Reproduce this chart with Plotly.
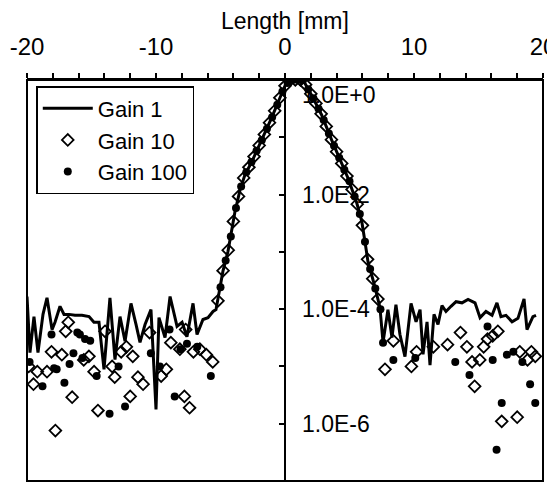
import plotly.graph_objects as go
import math

# ---------------- data ----------------
gain1_x = [-20.0, -19.77, -19.46, -19.15, -18.76, -18.45, -18.06, -17.83, -17.44, -17.13,
           -16.74, -16.28, -15.74, -15.19, -14.81, -14.42, -14.03, -13.57, -13.18, -12.79,
           -12.40, -11.94, -11.55, -11.24, -10.85, -10.39, -10.00, -9.77, -9.30, -8.91,
           -8.37, -7.98, -7.60, -7.13, -6.82, -6.36, -5.97, -5.58, -5.35, -5.04,
           -4.81, -4.42, -4.13, -3.88, -3.49, -3.10, -2.58, -1.81, -1.03, -0.39,
           0.0, 0.39, 1.40, 2.17, 2.84, 3.62, 4.26, 4.88, 5.56, 5.95,
           6.20, 6.43, 6.98, 7.36, 7.60, 7.98, 8.29, 8.60, 8.91, 9.30,
           9.77, 10.16, 10.47, 10.70, 11.01, 11.24, 11.55, 11.86, 12.17, 12.48,
           12.87, 13.26, 13.72, 14.19, 14.73, 15.12, 15.58, 16.05, 16.43, 16.74,
           17.13, 17.60, 18.06, 18.53, 18.76, 19.22, 19.46]
gain1_y = [1.66e-4, 1.74e-5, 7.4e-5, 1.74e-5, 8.1e-5, 1.58e-4, 4.4e-5, 5.9e-5, 1.12e-4, 8.1e-5,
           8.1e-5, 7.8e-5, 7.8e-5, 7.4e-5, 5.9e-5, 5.9e-5, 8.9e-6, 1.58e-4, 1.32e-5, 7.4e-5,
           2.75e-5, 1.26e-4, 5.4e-5, 2.63e-5, 5.4e-5, 9.8e-5, 1.78e-6, 7.1e-5, 3.2e-5, 1.66e-4,
           5.0e-5, 5.9e-5, 3.3e-5, 1.26e-4, 3.6e-5, 6.6e-5, 7.1e-5, 9.1e-5, 9.8e-5, 2.19e-4,
           4.6e-4, 1.02e-3, 2.24e-3, 5.0e-3, 1.2e-2, 2.24e-2, 3.7e-2, 8.9e-2, 0.22, 0.49,
           0.79, 1.0, 1.0, 0.49, 0.245, 8.9e-2, 4.1e-2, 1.95e-2, 7.2e-3, 3.4e-3,
           1.5e-3, 6.8e-4, 2.4e-4, 1.07e-4, 2.63e-5, 9.8e-5, 3.2e-5, 1.2e-4, 3.6e-5, 1.48e-5,
           1.26e-4, 6.0e-5, 9.8e-5, 1.62e-5, 6.0e-5, 1.05e-5, 8.1e-5, 5.4e-5, 1.15e-4, 9.1e-5,
           1.12e-4, 1.35e-4, 1.29e-4, 1.48e-4, 1.29e-4, 7.1e-5, 9.1e-5, 7.8e-5, 1.29e-4, 7.4e-5,
           7.8e-5, 6.0e-5, 6.9e-5, 1.51e-4, 4.4e-5, 7.4e-5, 7.8e-5]

gain10_x = [-19.87, -19.5, -19.2, -18.45, -18.1, -17.8, -17.3, -17.0, -16.8, -16.5,
            -15.6, -15.2, -14.8, -14.5, -13.95, -13.4, -13.2, -12.7, -12.3, -12.0,
            -11.8, -11.4, -11.0, -10.5, -9.6, -9.2, -8.85, -8.15, -7.8, -7.7,
            -7.4, -7.1, -6.6, -6.1, -5.6,
            -5.2, -4.8, -4.4, -4.0, -3.6, -3.2, -2.8, -2.4, -2.0, -1.6,
            -1.2, -0.8, -0.4, 0.0, 0.4, 0.8, 1.2, 1.6, 2.0, 2.4,
            2.8, 3.2, 3.6, 4.0, 4.4, 4.8, 5.2, 5.6, 6.0, 6.4,
            6.8, 7.2,
            7.75, 8.4, 9.8, 10.2, 11.5, 12.6, 13.6, 14.1, 14.5, 14.7,
            15.1, 15.4, 15.7, 16.1, 16.5, 16.8, 18.0, 18.2, 18.8, 19.1, 19.4]
gain10_y = [1.0e-5, 4.9e-6, 8.1e-6, 8.1e-6, 1.8e-5, 7.6e-7, 1.6e-5, 4.1e-5, 5.9e-5, 2.9e-6,
            1.3e-5, 1.5e-5, 8.1e-6, 1.7e-6, 4.1e-5, 1.0e-5, 6.5e-6, 1.8e-5, 2.2e-5, 3.0e-6,
            1.5e-5, 6.5e-6, 4.9e-6, 3.9e-5, 6.8e-6, 8.9e-6, 2.6e-5, 2.0e-5, 3.0e-6, 4.4e-5,
            1.9e-6, 1.8e-5, 2.0e-5, 1.6e-5, 1.2e-5,
            1.4e-4, 4.7e-4, 1.07e-3, 3.4e-3, 9.3e-3, 1.95e-2, 3.0e-2, 4.6e-2, 7.2e-2, 0.112,
            0.18, 0.29, 0.49, 0.79, 1.0, 1.0, 1.0, 0.83, 0.575, 0.39,
            0.257, 0.155, 0.091, 0.056, 0.035, 0.021, 0.0123, 6.8e-3, 2.9e-3, 7.4e-4,
            3.4e-4, 1.5e-4,
            8.9e-6, 2.8e-5, 1.0e-5, 1.8e-5, 2.2e-5, 2.4e-5, 3.9e-5, 2.2e-5, 1.2e-5, 4.5e-6,
            1.3e-5, 2.2e-5, 3.0e-5, 3.4e-5, 4.1e-5, 1.1e-6, 1.3e-6, 1.8e-5, 1.3e-5, 1.8e-5, 1.5e-5]

gain100_x = [-19.8, -18.8, -18.1, -17.9, -17.7, -17.1, -16.7, -16.4, -16.1, -15.9,
             -15.7, -15.5, -15.1, -14.6, -13.6, -12.9, -12.4, -10.4, -9.7, -8.95,
             -8.55, -8.1, -7.6, -6.8, -5.75,
             -5.0, -4.6, -4.2, -3.8, -3.4, -3.0, -2.6, -2.2, -1.8, -1.4,
             -1.0, -0.6, -0.2, 0.2, 0.6, 1.0, 1.4, 1.8, 2.2, 2.6,
             3.0, 3.4, 3.8, 4.2, 4.6, 5.0, 5.4, 5.8, 6.2, 6.6,
             7.0, 7.4,
             7.6, 8.4, 10.1, 13.2, 14.3, 15.7, 16.1, 16.4, 16.8, 17.2,
             17.7, 18.4, 19.0, 19.4]
gain100_y = [1.2e-5, 4.5e-6, 3.6e-5, 9.3e-6, 8.9e-6, 5.2e-6, 1.1e-5, 1.7e-5, 3.9e-5, 3.6e-5,
             1.4e-5, 3.0e-5, 2.8e-5, 6.8e-6, 1.5e-6, 1.0e-5, 2.0e-6, 1.7e-5, 1.0e-5, 4.4e-5,
             3.0e-6, 2.0e-5, 2.5e-5, 2.2e-5, 6.8e-6,
             2.4e-4, 7.1e-4, 1.86e-3, 5.8e-3, 1.38e-2, 2.45e-2, 3.7e-2, 5.8e-2, 8.9e-2, 0.141,
             0.224, 0.37, 0.63, 0.89, 1.0, 1.0, 1.0, 0.69, 0.48, 0.316,
             0.2, 0.117, 0.071, 0.044, 0.027, 0.017, 9.3e-3, 4.6e-3, 1.5e-3, 5.0e-4,
             2.3e-4, 1.0e-4,
             2.6e-5, 1.3e-5, 1.4e-5, 1.2e-5, 7.1e-6, 5.0e-5, 1.3e-5, 3.5e-7, 2.3e-6, 1.6e-5,
             1.8e-5, 1.2e-5, 4.9e-6, 2.3e-6]

x_tick_vals = [-20, -18, -16, -14, -12, -10, -8, -6, -4, -2, 0, 2, 4, 6, 8, 10, 12, 14, 16, 18, 20]
x_tick_text = ["-20", "", "", "", "", "-10", "", "", "", "", "0", "", "", "", "", "10", "", "", "", "", "20"]
y_tick_vals = [1, 1e-1, 1e-2, 1e-3, 1e-4, 1e-5, 1e-6, 1e-7]
y_label_vals = [1, 1e-2, 1e-4, 1e-6]
y_label_text = ["1.0E+0", "1.0E-2", "1.0E-4", "1.0E-6"]

FONT = "Liberation Sans, Arial, sans-serif"
FS = 23

fig = go.Figure()
fig.add_trace(go.Scatter(x=gain1_x, y=gain1_y, mode="lines", name="Gain 1",
                         line=dict(color="black", width=3)))
fig.add_trace(go.Scatter(x=gain10_x, y=gain10_y, mode="markers", name="Gain 10",
                         marker=dict(symbol="diamond-open", size=9, color="black",
                                     line=dict(width=1.8, color="black"))))
fig.add_trace(go.Scatter(x=gain100_x, y=gain100_y, mode="markers", name="Gain 100",
                         marker=dict(symbol="circle", size=8, color="black")))

annotations = []
for v, t in zip(y_label_vals, y_label_text):
    top = v == 1
    annotations.append(dict(x=0, y=math.log10(v), xref="x", yref="y", text=t,
                            showarrow=False, xanchor="left",
                            yanchor="top" if top else "middle",
                            xshift=15, yshift=0,
                            font=dict(family=FONT, size=FS, color="black")))
annotations.append(dict(x=0.5, y=1, xref="paper", yref="paper", text="Length [mm]",
                        showarrow=False, xanchor="center", yanchor="bottom", yshift=44,
                        font=dict(family=FONT, size=23, color="black")))

# the page adds an 8px body margin, so margins are offset to compensate
fig.update_layout(
    width=555, height=482,
    margin=dict(l=19, r=20, t=72, b=9),
    paper_bgcolor="white", plot_bgcolor="white",
    font=dict(family=FONT, size=FS, color="black"),
    showlegend=True,
    legend=dict(x=0.018, y=0.985, xanchor="left", yanchor="top",
                bordercolor="black", borderwidth=1.5, bgcolor="white",
                font=dict(family=FONT, size=22, color="black"),
                tracegroupgap=0, itemwidth=50),
    xaxis=dict(range=[-20, 20], side="top", tickvals=x_tick_vals, ticktext=x_tick_text,
               ticks="outside", ticklen=5, tickwidth=1.5, tickcolor="black",
               showgrid=False, zeroline=False, showline=True, linecolor="black",
               linewidth=2, mirror=True, automargin=False, ticklabelstandoff=8,
               tickfont=dict(family=FONT, size=24)),
    yaxis=dict(type="log", range=[-7, 0], tickvals=y_tick_vals, showticklabels=False,
               ticks="inside", ticklen=5, tickwidth=1.5, tickcolor="black",
               side="right", anchor="free", position=0.5, automargin=False,
               showgrid=False, zeroline=False, showline=True, linecolor="black", linewidth=2),
    annotations=annotations,
    shapes=[dict(type="rect", xref="paper", yref="paper", x0=0, x1=1, y0=0, y1=1,
                 line=dict(color="black", width=2), layer="above")],
)

fig.write_html("out.html")
